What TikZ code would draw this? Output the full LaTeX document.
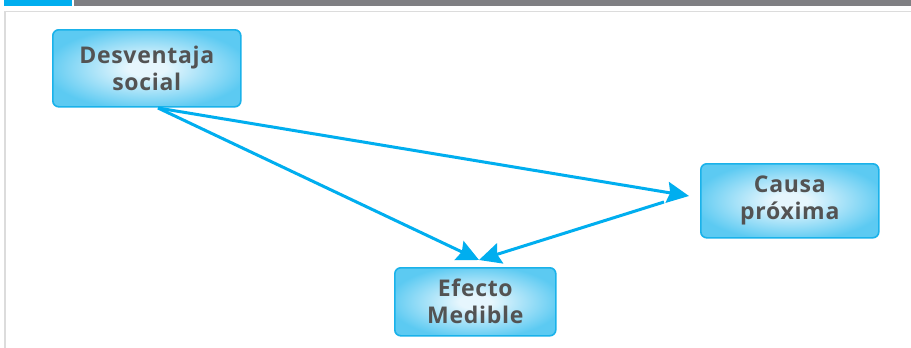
\documentclass[tikz,border=0pt]{standalone}
\usepackage{fontspec}
\setmainfont{Open Sans}
\usetikzlibrary{arrows.meta}
\definecolor{arrowblue}{HTML}{00AEEF}
\definecolor{boxedge}{HTML}{1AB2EA}
\definecolor{boxout}{HTML}{5CCAF2}
\definecolor{boxin}{HTML}{E6F6FD}
\definecolor{txtgray}{HTML}{535353}
\definecolor{bargray}{HTML}{7F7F83}
\definecolor{framegray}{HTML}{DCDCDC}
\pgfdeclareradialshading{boxshade}{\pgfpoint{0bp}{0bp}}{%
  color(0bp)=(boxin); color(5bp)=(boxin); color(27bp)=(boxout); color(50bp)=(boxout)}
\begin{document}
\begin{tikzpicture}[x=1pt,y=-1pt,
  box/.style={draw=boxedge, line width=1.6pt, rounded corners=6pt,
    shading=boxshade, text=txtgray,
    font=\fontsize{23}{27}\selectfont\bfseries\addfontfeatures{LetterSpace=3},
    align=center, anchor=north west},
  conn/.style={draw=arrowblue, line width=3pt,
    -{Stealth[length=22pt,width=21pt,inset=3pt]}}]
\useasboundingbox (0,0) rectangle (911,348);
\fill[white] (0,0) rectangle (911,348);
% top bars
\fill[arrowblue] (4,0) rectangle (72,6);
\fill[bargray] (74,0) rectangle (911,6);
% frame
\draw[framegray, line width=1.5pt] (5,348) -- (5,11.5) -- (911,11.5);
% boxes
\node[box, minimum width=188pt, minimum height=77pt] (d) at (52,29) {Desventaja\\social};
\node[box, minimum width=178pt, minimum height=74pt] (c) at (700,163) {Causa\\próxima};
\node[box, minimum width=161pt, minimum height=68pt] (e) at (394,267) {Efecto\\Medible};
% connector points
\coordinate (ds) at (158,108);
\coordinate (cw) at (689,196);
\coordinate (cs) at (664,202);
\coordinate (en) at (479,260);
\draw[conn] (ds) -- (cw);
\draw[conn] (ds) -- (en);
\draw[conn] (cs) -- (en);
\end{tikzpicture}
\end{document}
